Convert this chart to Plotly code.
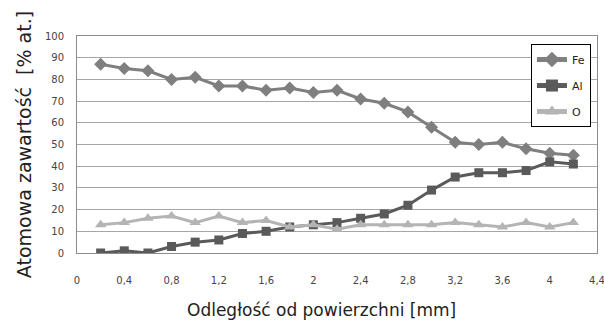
import plotly.graph_objects as go

x = [0.2, 0.4, 0.6, 0.8, 1.0, 1.2, 1.4, 1.6, 1.8, 2.0, 2.2, 2.4, 2.6, 2.8, 3.0, 3.2, 3.4, 3.6, 3.8, 4.0, 4.2]
fe = [87, 85, 84, 80, 81, 77, 77, 75, 76, 74, 75, 71, 69, 65, 58, 51, 50, 51, 48, 46, 45]
al = [0, 1, 0, 3, 5, 6, 9, 10, 12, 13, 14, 16, 18, 22, 29, 35, 37, 37, 38, 42, 41]
o = [13, 14, 16, 17, 14, 17, 14, 15, 12, 13, 11, 13, 13, 13, 13, 14, 13, 12, 14, 12, 14]
x_ticks = [0, 0.4, 0.8, 1.2, 1.6, 2.0, 2.4, 2.8, 3.2, 3.6, 4.0, 4.4]
x_labels = ["0", "0,4", "0,8", "1,2", "1,6", "2", "2,4", "2,8", "3,2", "3,6", "4", "4,4"]
y_ticks = list(range(0, 101, 10))
x_title = "Odległość od powierzchni [mm]"
y_title = "Atomowa zawartość  [% at.]"

font = "DejaVu Sans"
fig = go.Figure()
fig.add_trace(go.Scatter(x=x, y=fe, name="Fe", mode="lines+markers", legendgroup="fe",
                         line=dict(color="#7f7f7f", width=3),
                         marker=dict(symbol="diamond", size=10, color="#7f7f7f")))
fig.add_trace(go.Scatter(x=x, y=al, name="Al", mode="lines+markers", legendgroup="al",
                         line=dict(color="#5a5a5a", width=3),
                         marker=dict(symbol="square", size=9, color="#5a5a5a")))
fig.add_trace(go.Scatter(x=x, y=o, name="O", mode="lines+markers", legendgroup="o",
                         line=dict(color="#b4b4b4", width=3),
                         marker=dict(symbol="triangle-up", size=10, color="#b4b4b4")))

fig.add_annotation(text=x_title, xref="paper", yref="paper", x=0.471, y=-0.263,
                   xanchor="center", yanchor="middle", showarrow=False,
                   font=dict(size=17, color="#222222"))

fig.update_layout(
    width=604, height=326,
    margin=dict(l=77, r=7, t=36, b=73, autoexpand=False),
    paper_bgcolor="white", plot_bgcolor="white",
    font=dict(family=font, color="#333333", size=10),
    showlegend=True,
    legend=dict(x=0.873, y=0.963, xanchor="left", yanchor="top",
                bordercolor="black", borderwidth=1, bgcolor="white",
                font=dict(size=11, color="#222222"), tracegroupgap=7,
                itemwidth=30, itemsizing="constant"),
    xaxis=dict(range=[0, 4.4], tickvals=x_ticks, ticktext=x_labels, automargin=False,
               showgrid=False, zeroline=False, showline=True, linecolor="#8c8c8c",
               mirror=True, ticks="", ticklabelstandoff=18, ticklabeloverflow="allow",
               tickfont=dict(size=10, color="#444444")),
    yaxis=dict(range=[0, 100], tickvals=y_ticks, showgrid=True, gridcolor="#a6a6a6",
               gridwidth=1, zeroline=False, showline=True, linecolor="#8c8c8c",
               mirror=True, ticks="", ticklabelstandoff=10, automargin=False,
               tickfont=dict(size=10, color="#444444"),
               title=dict(text=y_title, standoff=8,
                          font=dict(size=19, color="#222222"))),
)
fig.write_html("out.html", config={"displayModeBar": False},
               post_script="document.body.style.margin='0';document.body.style.overflow='hidden';")
